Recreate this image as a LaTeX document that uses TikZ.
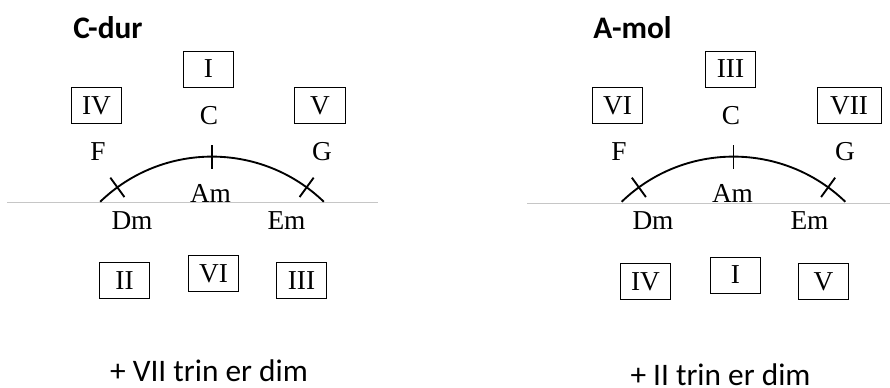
\documentclass[tikz,border=0pt]{standalone}
\usepackage{fontspec}
\setmainfont{Liberation Serif}
\newfontfamily\calfont{Carlito}
\usetikzlibrary{positioning}

\begin{document}
\begin{tikzpicture}[x=0.75pt,y=0.75pt,
  chord/.style={inner sep=0pt,font=\fontsize{20.5}{24}\selectfont},
  degree/.style={draw,line width=0.75pt,minimum width=38pt,minimum height=27pt,
    inner sep=0pt,font=\fontsize{20.5}{24}\selectfont},
  keyname/.style={inner sep=0pt,font=\calfont\bfseries\fontsize{23.5}{28}\selectfont},
  remark/.style={inner sep=0pt,anchor=base,font=\calfont\fontsize{23.5}{28}\selectfont},
  circle5/.style={line width=1.4pt},
  axis/.style={gray!45,line width=0.6pt}]
  \useasboundingbox (0,0) rectangle (890,387);

  % C-dur
  \coordinate (cdur) at (212,69.4);
  \draw[axis] (7,185) -- (378,185);
  \draw[circle5] (cdur) ++(134:161) arc[start angle=134,end angle=46,radius=161];
  \foreach \a in {54,90,126}
    \draw[circle5] (cdur) ++(\a:149) -- ++(\a:24);
  \node[keyname] (cdurT) at (108,359) {C-dur};
  \node[degree] (cI) at (208.5,318) {I};
  \node[degree] (cIV) at (96.5,281.5) {IV};
  \node[degree] (cV) at (320,281.5) {V};
  \node[chord] (cC) at (209,271) {C};
  \node[chord] (cF) at (98,235) {F};
  \node[chord] (cG) at (322,235) {G};
  \node[chord] (cAm) at (210.5,194) {Am};
  \node[chord] (cDm) at (132,166) {Dm};
  \node[chord] (cEm) at (286.5,166) {Em};
  \node[degree] (cII) at (124.5,106.5) {II};
  \node[degree] (cVI) at (213.5,113.5) {VI};
  \node[degree] (cIII) at (301.5,106.5) {III};
  \node[remark] (cNote) at (209,6) {+ VII trin er dim};

  % A-mol
  \coordinate (amol) at (733.5,69.4);
  \draw[axis] (527,184) -- (890,184);
  \draw[circle5] (amol) ++(134:161) arc[start angle=134,end angle=46,radius=161];
  \foreach \a in {54,90,126}
    \draw[circle5] (amol) ++(\a:149) -- ++(\a:24);
  \node[keyname] (amolT) at (632.5,359) {A-mol};
  \node[degree] (aIII) at (730.5,318) {III};
  \node[degree] (aVI) at (617.5,281.5) {VI};
  \node[degree,minimum width=48pt] (aVII) at (849,281.5) {VII};
  \node[chord] (aC) at (731,271) {C};
  \node[chord] (aF) at (619,235) {F};
  \node[chord] (aG) at (845,235) {G};
  \node[chord] (aAm) at (732.5,194) {Am};
  \node[chord] (aDm) at (653,166) {Dm};
  \node[chord] (aEm) at (809.5,166) {Em};
  \node[degree] (aIV) at (645.5,105.5) {IV};
  \node[degree] (aI) at (735.5,112) {I};
  \node[degree] (aV) at (823.5,105.5) {V};
  \node[remark] (aNote) at (720.5,1.5) {+ II trin er dim};
\end{tikzpicture}
\end{document}
